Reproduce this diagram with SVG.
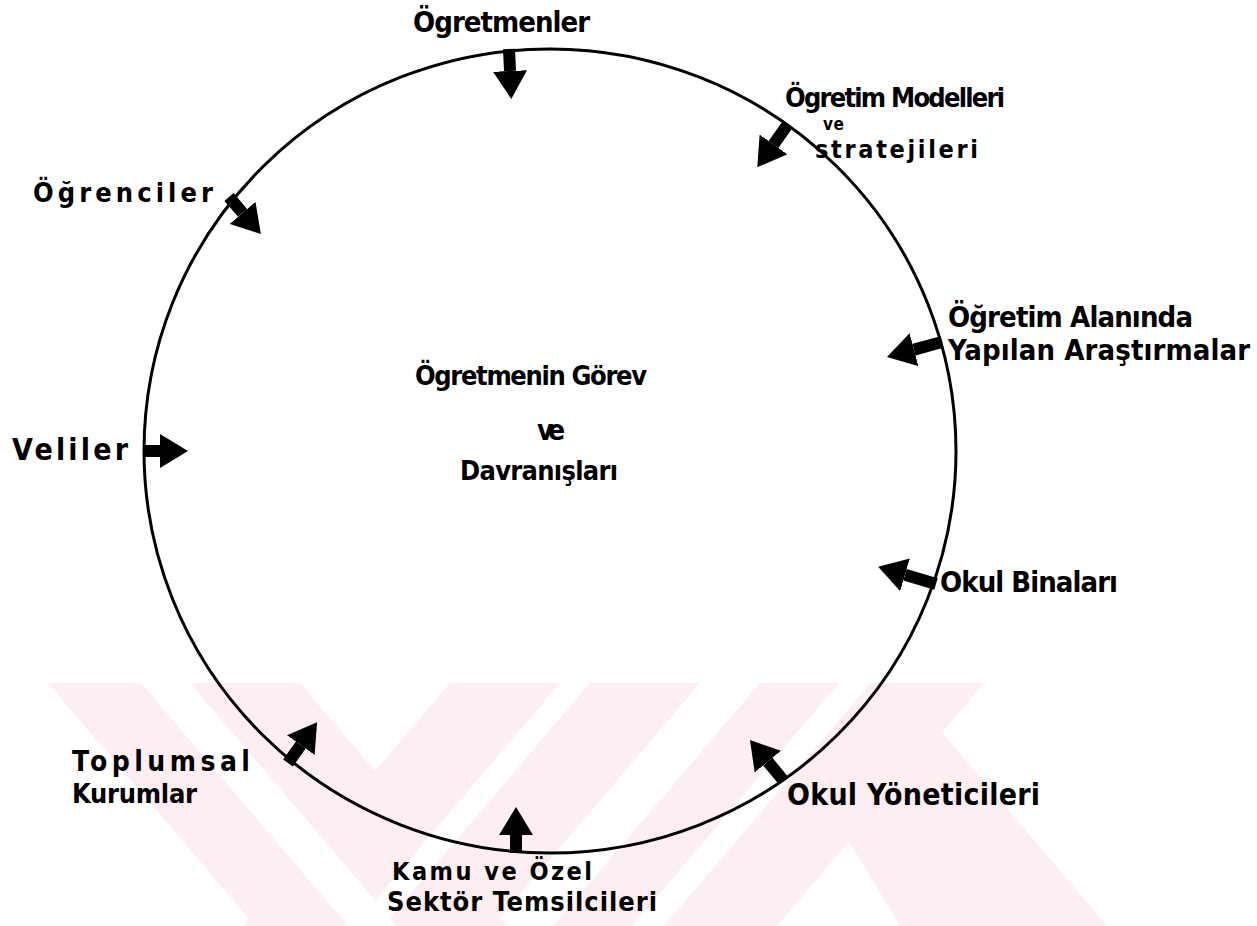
<svg xmlns="http://www.w3.org/2000/svg" width="1257" height="926" viewBox="0 0 1257 926">
  <style>
    .t { font-family: "DejaVu Sans Condensed", "DejaVu Sans", "Liberation Sans", sans-serif; font-stretch: condensed; font-weight: bold; fill: #000; }
    .wm { fill: #fdeef1; }
    .wg { fill: #ffffff; }
    .conn line { stroke: #000; stroke-width: 12; stroke-linecap: butt; marker-end: url(#ah); }
  </style>
  <defs>
    <marker id="ah" viewBox="0 0 28 34" refX="0" refY="17" markerWidth="28" markerHeight="34" markerUnits="userSpaceOnUse" orient="auto">
      <path d="M0,0 L28,17 L0,34 Z" fill="#000"/>
    </marker>
    <clipPath id="wmclip"><rect x="0" y="683" width="1257" height="243"/></clipPath>
  </defs>
  <rect width="1257" height="926" fill="#ffffff"/>

  <!-- faint watermark -->
  <g id="watermark" clip-path="url(#wmclip)">
    <polygon class="wm" points="48,683 300,683 507,926 255,926"/>
    <polygon class="wm" points="450,683 700,683 493,926 243,926"/>
    <polygon class="wm" points="760,683 984,683 777,926 553,926"/>
    <polygon class="wm" points="800,760 900,683 1107,926 900,926"/>
    <polygon class="wg" points="141,683 190,683 397,926 348,926"/>
    <polygon class="wg" points="560,683 590,683 383,926 353,926"/>
    <polygon class="wg" points="839,683 871,683 664,926 632,926"/>
  </g>

  <g id="circle">
    <ellipse cx="550" cy="451" rx="406" ry="402" fill="none" stroke="#000" stroke-width="3"/>
  </g>

  <g id="connectors" class="conn">
    <line x1="509" y1="49" x2="510" y2="71"/>
    <line x1="788" y1="124" x2="773.5" y2="144.4"/>
    <line x1="229" y1="197" x2="242.6" y2="212.8"/>
    <line x1="942" y1="342" x2="914" y2="349.6"/>
    <line x1="143" y1="451" x2="160" y2="451"/>
    <line x1="936" y1="584" x2="905" y2="574.8"/>
    <line x1="783" y1="780" x2="767.8" y2="761.6"/>
    <line x1="516" y1="853" x2="516" y2="835"/>
    <line x1="288" y1="763" x2="300.8" y2="745.1"/>
  </g>

  <g id="center">
    <text class="t" x="415" y="385" font-size="27" textLength="232" lengthAdjust="spacing">Ögretmenin Görev</text>
    <text class="t" x="537" y="440" font-size="28" textLength="28" lengthAdjust="spacing">ve</text>
    <text class="t" x="460" y="480" font-size="27" textLength="158" lengthAdjust="spacing">Davranışları</text>
  </g>

  <g id="ogretmenler">
    <text class="t" x="413" y="32" font-size="29" textLength="177" lengthAdjust="spacing">Ögretmenler</text>
  </g>

  <g id="modeller">
    <text class="t" x="785" y="107" font-size="27" textLength="220" lengthAdjust="spacing">Ögretim Modelleri</text>
    <text class="t" x="823" y="130" font-size="17" textLength="21" lengthAdjust="spacing">ve</text>
    <text class="t" x="815" y="158" font-size="25" textLength="163" lengthAdjust="spacing">stratejileri</text>
  </g>

  <g id="ogrenciler">
    <text class="t" x="33" y="202" font-size="27" textLength="180" lengthAdjust="spacing">Öğrenciler</text>
  </g>

  <g id="arastirmalar">
    <text class="t" x="948" y="327" font-size="29" textLength="245" lengthAdjust="spacing">Öğretim Alanında</text>
    <text class="t" x="948" y="360" font-size="29" textLength="302" lengthAdjust="spacing">Yapılan Araştırmalar</text>
  </g>

  <g id="veliler">
    <text class="t" x="12" y="460" font-size="30" textLength="116" lengthAdjust="spacing">Veliler</text>
  </g>

  <g id="binalar">
    <text class="t" x="940" y="592" font-size="29" textLength="178" lengthAdjust="spacing">Okul Binaları</text>
  </g>

  <g id="toplumsal">
    <text class="t" x="72" y="771" font-size="28" textLength="178" lengthAdjust="spacing">Toplumsal</text>
    <text class="t" x="72" y="803" font-size="27" textLength="125" lengthAdjust="spacing">Kurumlar</text>
  </g>

  <g id="yoneticiler">
    <text class="t" x="787" y="805" font-size="30" textLength="253" lengthAdjust="spacing">Okul Yöneticileri</text>
  </g>

  <g id="kamu">
    <text class="t" x="392" y="880" font-size="25" textLength="200" lengthAdjust="spacing">Kamu ve Özel</text>
    <text class="t" x="387" y="911" font-size="27" textLength="270" lengthAdjust="spacing">Sektör Temsilcileri</text>
  </g>
</svg>
